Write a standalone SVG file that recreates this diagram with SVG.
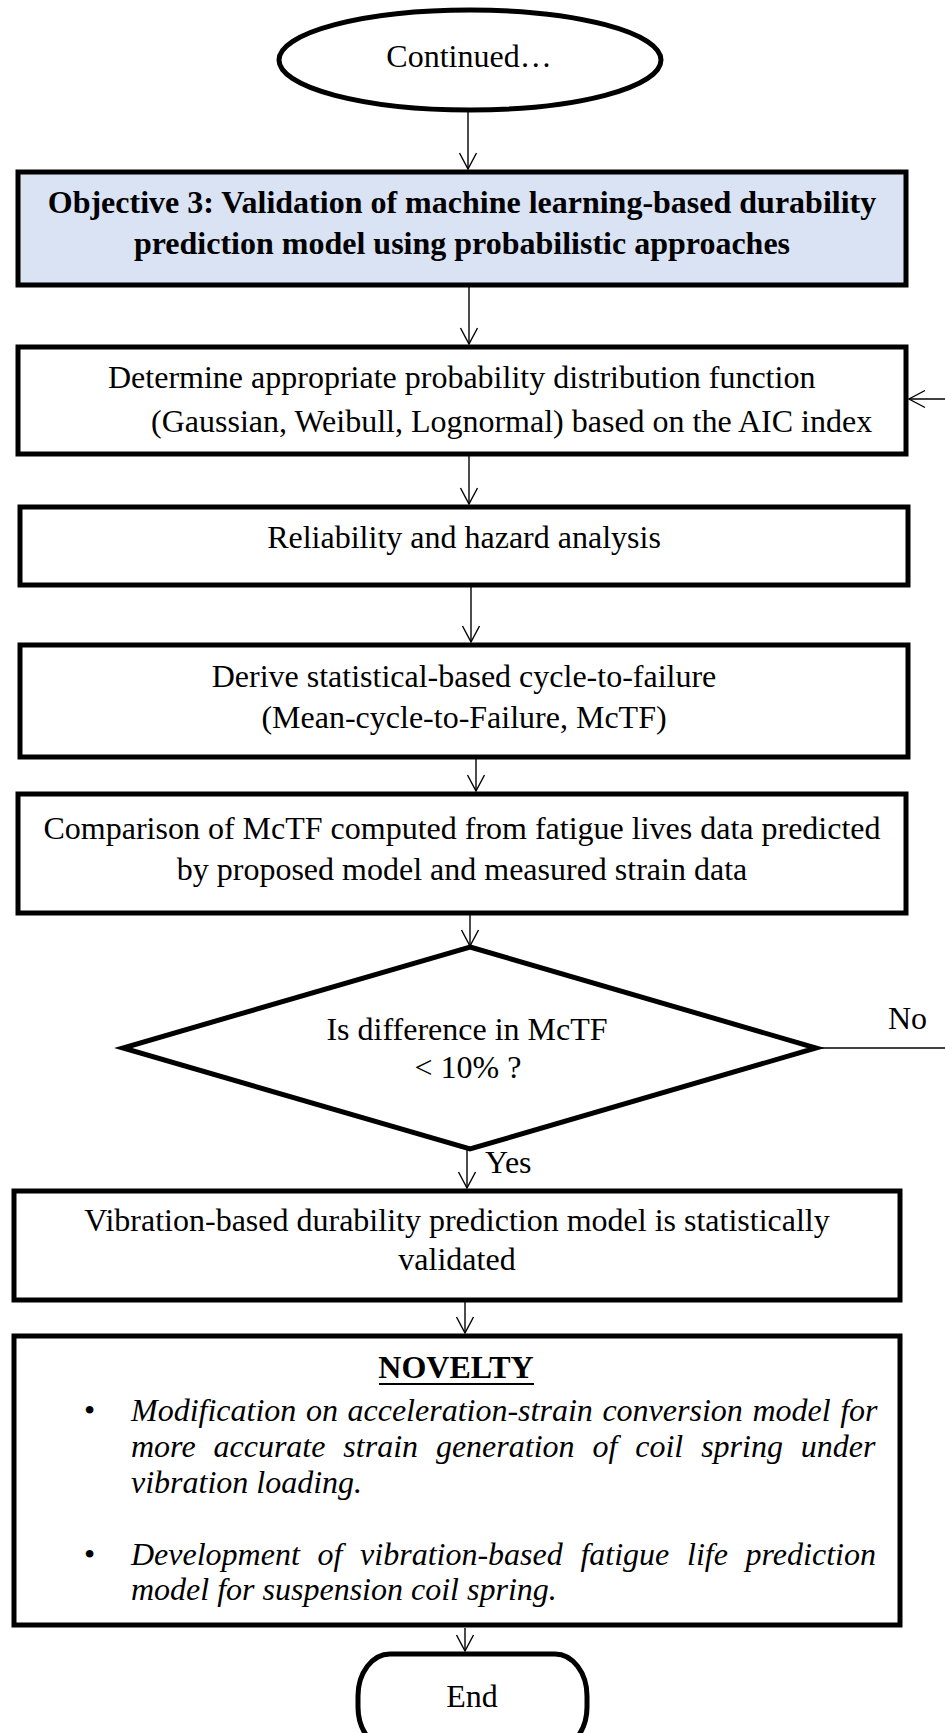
<svg xmlns="http://www.w3.org/2000/svg" width="945" height="1733" viewBox="0 0 945 1733">
<style>
.box{fill:#ffffff;stroke:#000;stroke-width:5}
.obj{fill:#dae3f3;stroke:#000;stroke-width:5}
.t{font-family:"Liberation Serif","Times New Roman",serif;font-size:32px;fill:#000}
.c{text-anchor:middle}
.b{font-weight:bold}
.i{font-style:italic}
.conn{stroke:#000;stroke-width:1.4;fill:none}
</style>
<defs>
<marker id="arr" markerUnits="userSpaceOnUse" markerWidth="40" markerHeight="40" viewBox="-20 -20 40 40" refX="0" refY="0" orient="auto" overflow="visible">
<path d="M-16,-8.5 L0,0 L-16,8.5" fill="none" stroke="#000" stroke-width="1.4"/>
</marker>
</defs>
<rect width="945" height="1733" fill="#ffffff"/>

<g id="connectors">
<line class="conn" x1="468" y1="110" x2="468" y2="169" marker-end="url(#arr)"/>
<line class="conn" x1="469" y1="287" x2="469" y2="344" marker-end="url(#arr)"/>
<line class="conn" x1="469" y1="456" x2="469" y2="504" marker-end="url(#arr)"/>
<line class="conn" x1="471" y1="587" x2="471" y2="642" marker-end="url(#arr)"/>
<line class="conn" x1="476" y1="759" x2="476" y2="791" marker-end="url(#arr)"/>
<line class="conn" x1="470" y1="915" x2="470" y2="946" marker-end="url(#arr)"/>
<line class="conn" x1="467" y1="1149" x2="467" y2="1188" marker-end="url(#arr)"/>
<line class="conn" x1="465" y1="1302" x2="465" y2="1333" marker-end="url(#arr)"/>
<line class="conn" x1="465" y1="1628" x2="465" y2="1651" marker-end="url(#arr)"/>
<line class="conn" x1="816" y1="1048" x2="945" y2="1048"/>
<line class="conn" x1="945" y1="399" x2="909" y2="399" marker-end="url(#arr)"/>
<text class="t" x="888" y="1029">No</text>
<text class="t" x="485" y="1173">Yes</text>
</g>

<g id="start">
<ellipse cx="470" cy="60" rx="191" ry="50" fill="#fff" stroke="#000" stroke-width="5"/>
<text class="t c" x="469" y="67">Continued…</text>
</g>

<g id="objective3">
<rect class="obj" x="18" y="172" width="888" height="113"/>
<text class="t c b" x="462" y="213">Objective 3: Validation of machine learning-based durability</text>
<text class="t c b" x="462" y="254">prediction model using probabilistic approaches</text>
</g>

<g id="determine-pdf">
<rect class="box" x="18" y="347" width="888" height="107"/>
<text class="t" x="108" y="388">Determine appropriate probability distribution function</text>
<text class="t" x="151" y="432">(Gaussian, Weibull, Lognormal) based on the AIC index</text>
</g>

<g id="reliability">
<rect class="box" x="20" y="507" width="888" height="78"/>
<text class="t c" x="464" y="548">Reliability and hazard analysis</text>
</g>

<g id="derive-mctf">
<rect class="box" x="20" y="645" width="888" height="112"/>
<text class="t c" x="464" y="687">Derive statistical-based cycle-to-failure</text>
<text class="t c" x="464" y="728">(Mean-cycle-to-Failure, McTF)</text>
</g>

<g id="comparison">
<rect class="box" x="18" y="794" width="888" height="119"/>
<text class="t c" x="462" y="839">Comparison of McTF computed from fatigue lives data predicted</text>
<text class="t c" x="462" y="880">by proposed model and measured strain data</text>
</g>

<g id="decision">
<polygon points="470,947 816,1048 470,1149 123,1048" fill="#fff" stroke="#000" stroke-width="5" stroke-linejoin="miter"/>
<text class="t c" x="467" y="1040">Is difference in McTF</text>
<text class="t c" x="468" y="1078">&lt; 10% ?</text>
</g>

<g id="validated">
<rect class="box" x="14" y="1191" width="886" height="109"/>
<text class="t c" x="457" y="1231">Vibration-based durability prediction model is statistically</text>
<text class="t c" x="457" y="1270">validated</text>
</g>

<g id="novelty">
<rect class="box" x="14" y="1336" width="886" height="289"/>
<text class="t c b" x="456" y="1378">NOVELTY</text>
<line x1="379" y1="1384" x2="534" y2="1384" stroke="#000" stroke-width="2.2"/>
<text class="t" x="84" y="1421">•</text>
<text class="t i" x="131" y="1421" word-spacing="1.6">Modification on acceleration-strain conversion model for</text>
<text class="t i" x="131" y="1457" word-spacing="9.9">more accurate strain generation of coil spring under</text>
<text class="t i" x="131" y="1493">vibration loading.</text>
<text class="t" x="84" y="1565">•</text>
<text class="t i" x="131" y="1565" word-spacing="9.7">Development of vibration-based fatigue life prediction</text>
<text class="t i" x="131" y="1600">model for suspension coil spring.</text>
</g>

<g id="end">
<rect x="358" y="1654" width="229" height="95" rx="32" ry="42" fill="#fff" stroke="#000" stroke-width="5"/>
<text class="t c" x="472" y="1707">End</text>
</g>
</svg>
